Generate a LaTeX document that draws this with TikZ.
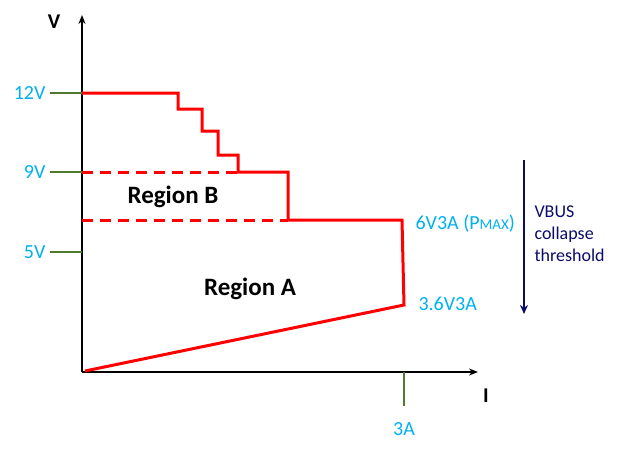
\documentclass[tikz,border=0pt]{standalone}
\usepackage{fontspec}
\setmainfont{Carlito}
\usetikzlibrary{arrows.meta}
\definecolor{lblue}{HTML}{00B0F0}
\definecolor{tgreen}{HTML}{4E7A2E}
\definecolor{navy}{HTML}{0B0B6B}
\begin{document}
\begin{tikzpicture}[x=1pt,y=-1pt,
    curve/.style={red, line width=3pt},
    tick/.style={tgreen, line width=1.2pt},
    lbl/.style={lblue, font=\fontsize{20}{22}\selectfont},
    region/.style={font=\bfseries\fontsize{25}{27}\selectfont}
]
\useasboundingbox (0,0) rectangle (624,455);

%% Axes
\coordinate (o) at (82,372);
\coordinate (vtop) at (82,15);
\coordinate (iend) at (478,372);
\draw[line width=1.5pt,-{Stealth[length=9pt,width=7pt]}] (o) -- (vtop);
\draw[line width=1.5pt,-{Stealth[length=9pt,width=7pt]}] (o) -- (iend);
\node[font=\bfseries\fontsize{21}{23}\selectfont] (vlab) at (54,22) {V};
\node[font=\bfseries\fontsize{21}{23}\selectfont] (ilab) at (486,396) {I};

%% Ticks
\foreach \yy/\txt in {93/12V, 172/9V, 252/5V}{
  \draw[tick] (50,\yy) -- (82,\yy);
  \node[lbl, anchor=east] (t\txt) at (49,\yy) {\txt};
}
\draw[tick] (404,372) -- (404,406);
\node[lbl] (t3a) at (404,429) {3A};

%% Curves
\draw[curve] (82,93) -- (178,93) -- (178,109) -- (202,109) -- (202,131)
  -- (218,131) -- (218,155) -- (238,155) -- (238,172) -- (288,172)
  -- (288,220) -- (402,220) -- (404,305) -- (85,371);
\draw[curve, dash pattern=on 11pt off 7pt] (82,172) -- (238,172);
\draw[curve, dash pattern=on 11pt off 7pt] (82,220) -- (288,220);

%% Labels
\node[region] (rb) at (173,197) {Region B};
\node[region] (ra) at (250,289) {Region A};
\node[lbl, anchor=west] (pmax) at (412,224) {6V3A (P{\fontsize{15}{16}\selectfont MAX})};
\node[lbl, anchor=west] (low) at (415,304) {3.6V3A};

%% Threshold arrow
\coordinate (ta) at (524,160);
\coordinate (tb) at (524,314);
\draw[navy, line width=2pt, -{Stealth[length=9pt,width=8pt]}] (ta) -- (tb);
\node[navy, align=left, anchor=west, font=\fontsize{18}{22}\selectfont] (vbus) at (531,234) {VBUS\\collapse\\threshold};
\end{tikzpicture}
\end{document}
